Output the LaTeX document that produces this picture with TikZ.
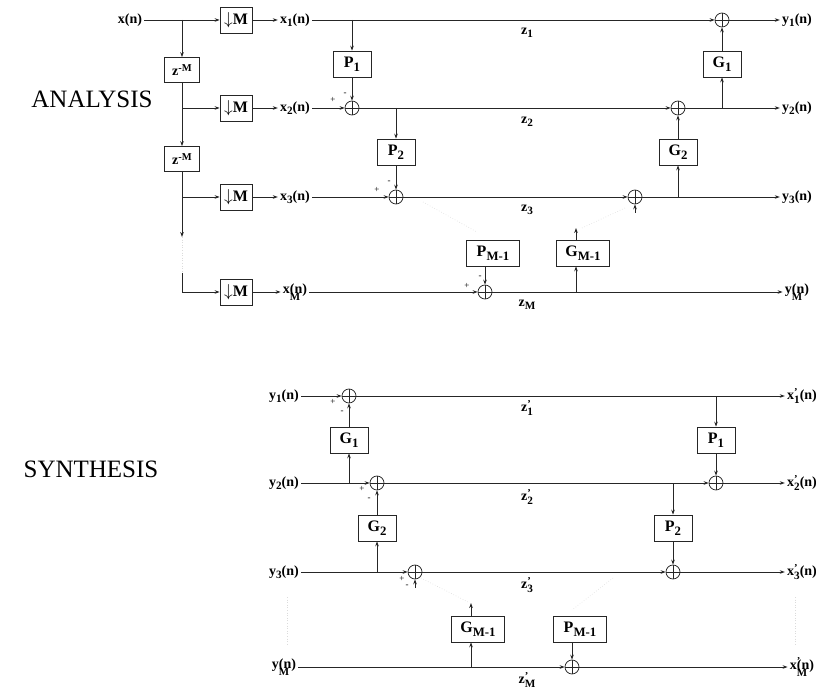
\documentclass[tikz,border=0pt]{standalone}
\usepackage{fontspec}
\usepackage{graphicx}
\setmainfont{Liberation Serif}
\usetikzlibrary{arrows.meta}

% index helpers: lowered subscript, raised superscript, both stacked
\newcommand\lsub[1]{\raisebox{-0.5ex}{\scalebox{0.8}{#1}}}
\newcommand\lsup[1]{\raisebox{0.65ex}{\scalebox{0.75}{#1}}}
\newcommand\lboth[2]{\rlap{\lsup{#1}}\lsub{#2}}
\newcommand\lunder[1]{\rlap{\raisebox{-1.1ex}{\scalebox{0.78}{#1}}}}

\begin{document}
\begin{tikzpicture}[x=1pt,y=-1pt,
  line width=0.75pt, draw=black!85,
  >={Stealth[length=5pt,width=3.6pt]},
  blk/.style={draw, minimum height=26pt, minimum width=38pt, inner sep=0pt,
              font=\bfseries\fontsize{16}{16}\selectfont},
  wblk/.style={blk, minimum width=53pt},
  dec/.style={blk, minimum width=32pt},
  dly/.style={draw, minimum height=25pt, minimum width=35pt, inner sep=0pt,
              font=\bfseries\fontsize{14}{14}\selectfont},
  lbl/.style={inner sep=2pt, font=\bfseries\fontsize{14}{14}\selectfont},
  zlbl/.style={inner sep=0pt, font=\bfseries\fontsize{14}{14}\selectfont},
  sgn/.style={inner sep=0pt, font=\fontsize{9}{9}\selectfont},
  title/.style={inner sep=0pt, font=\fontsize{25}{25}\selectfont},
  sumj/.style={circle, draw, minimum size=14pt, inner sep=0pt,
    path picture={\draw (path picture bounding box.north) -- (path picture bounding box.south)
                        (path picture bounding box.west) -- (path picture bounding box.east);}},
  faint/.style={draw=black!14, dotted, line width=0.6pt}
]
\useasboundingbox (0,0) rectangle (816,692);

% ---------------- analysis bank ----------------
\node[title] (ttlA) at (92,99) {ANALYSIS};

\node[lbl] (xin) at (130,20) {x(n)};
\coordinate (b0) at (182,20);
\coordinate (b1) at (182,108);
\coordinate (b2) at (182,197);
\coordinate (b3) at (182,237);
\coordinate (b4) at (182,273);
\coordinate (b5) at (182,292);

\node[dly] (zd1) at (182,70)  {z\lsup{-M}};
\node[dly] (zd2) at (182,159) {z\lsup{-M}};

\node[dec] (d1) at (236,20)  {\ensuremath{\downarrow}M};
\node[dec] (d2) at (236,108) {\ensuremath{\downarrow}M};
\node[dec] (d3) at (236,197) {\ensuremath{\downarrow}M};
\node[dec] (d4) at (236,292) {\ensuremath{\downarrow}M};

\node[lbl] (x1) at (295,20)  {x\lsub{1}(n)};
\node[lbl] (x2) at (295,108) {x\lsub{2}(n)};
\node[lbl] (x3) at (295,197) {x\lsub{3}(n)};
\node[lbl] (xM) at (295,292) {x\lunder{M}(n)};

\draw[->] (xin) -- (d1);
\draw[->] (b0) -- (zd1);
\draw (zd1) -- (b1);
\draw[->] (b1) -- (d2);
\draw[->] (b1) -- (zd2);
\draw (zd2) -- (b2);
\draw[->] (b2) -- (d3);
\draw[->] (b2) -- (b3);
\draw[faint] (b3) -- (b4);
\draw (b4) -- (b5);
\draw[->] (b5) -- (d4);

\draw[->] (d1) -- (x1);
\draw[->] (d2) -- (x2);
\draw[->] (d3) -- (x3);
\draw[->] (d4) -- (xM);

% lifting stages
\node[sumj] (sA2) at (352,108) {};
\node[sumj] (sA3) at (396,197) {};
\node[sumj] (sAM) at (485,292) {};
\node[sumj] (sB1) at (722,20)  {};
\node[sumj] (sB2) at (678,108) {};
\node[sumj] (sB3) at (635,197) {};

\node[blk] (aP1) at (352,64)  {P\lsub{1}};
\node[blk] (aP2) at (396,152) {P\lsub{2}};
\node[wblk] (aPM) at (493,253) {P\lsub{M-1}};
\node[blk] (aG1) at (722,64)  {G\lsub{1}};
\node[blk] (aG2) at (678,152) {G\lsub{2}};
\node[wblk] (aGM) at (583,253) {G\lsub{M-1}};

\node[lbl] (y1) at (797,20)  {y\lsub{1}(n)};
\node[lbl] (y2) at (797,108) {y\lsub{2}(n)};
\node[lbl] (y3) at (797,197) {y\lsub{3}(n)};
\node[lbl] (yM) at (797,292) {y\lunder{M}(n)};

% channel lines
\draw[->] (x1) -- (sB1);
\draw[->] (sB1) -- (y1);
\draw[->] (x2) -- (sA2);
\draw[->] (sA2) -- (sB2);
\draw[->] (sB2) -- (y2);
\draw[->] (x3) -- (sA3);
\draw[->] (sA3) -- (sB3);
\draw[->] (sB3) -- (y3);
\draw[->] (xM) -- (sAM);
\draw[->] (sAM) -- (yM);

% prediction and update branches
\coordinate (aP1t) at (352,20);
\coordinate (aP2t) at (396,108);
\coordinate (aG1b) at (722,108);
\coordinate (aG2b) at (678,197);
\coordinate (aGMb) at (576,292);
\coordinate (aGMt) at (576,228);
\coordinate (sB3in) at (635,213);
\draw[->] (aP1t) -- (aP1);
\draw[->] (aP1) -- (sA2);
\draw[->] (aP2t) -- (aP2);
\draw[->] (aP2) -- (sA3);
\draw[->] (sAM |- aPM.south) -- (sAM);
\draw[->] (aG1b) -- (aG1);
\draw[->] (aG1) -- (sB1);
\draw[->] (aG2b) -- (aG2);
\draw[->] (aG2) -- (sB2);
\draw[->] (aGMb) -- (aGMb |- aGM.south);
\draw[->] (aGMb |- aGM.north) -- (aGMt);
\draw[->] (sB3in) -- (sB3);

\coordinate (fa1) at (423,202); \coordinate (fa2) at (477,232);
\coordinate (fa3) at (582,228); \coordinate (fa4) at (625,208);
\draw[faint] (fa1) -- (fa2);
\draw[faint] (fa3) -- (fa4);

\node[sgn] (pa2) at (333,100) {+};
\node[sgn] (ma2) at (345,94)  {-};
\node[sgn] (pa3) at (377,190) {+};
\node[sgn] (ma3) at (389,182) {-};
\node[sgn] (paM) at (467,286) {+};
\node[sgn] (maM) at (480,277) {-};

\node[zlbl] (za1) at (527,33)  {z\lsub{1}};
\node[zlbl] (za2) at (527,122) {z\lsub{2}};
\node[zlbl] (za3) at (527,210) {z\lsub{3}};
\node[zlbl] (zaM) at (527,305) {z\lsub{M}};

% ---------------- synthesis bank ----------------
\node[title] (ttlS) at (91,469) {SYNTHESIS};

\node[lbl] (v1) at (284,396) {y\lsub{1}(n)};
\node[lbl] (v2) at (284,483) {y\lsub{2}(n)};
\node[lbl] (v3) at (284,572) {y\lsub{3}(n)};
\node[lbl] (vM) at (284,667) {y\lunder{M}(n)};

\node[sumj] (tA1) at (349,396) {};
\node[sumj] (tA2) at (377,483) {};
\node[sumj] (tA3) at (415,572) {};
\node[sumj] (tB2) at (716,483) {};
\node[sumj] (tB3) at (673,572) {};
\node[sumj] (tBM) at (572,667) {};

\node[blk] (sG1) at (349,440) {G\lsub{1}};
\node[blk] (sG2) at (377,528) {G\lsub{2}};
\node[wblk] (sGM) at (478,629) {G\lsub{M-1}};
\node[blk] (sP1) at (716,440) {P\lsub{1}};
\node[blk] (sP2) at (673,528) {P\lsub{2}};
\node[wblk] (sPM) at (580,629) {P\lsub{M-1}};

\node[lbl] (w1) at (802,396) {x\lboth{'}{1}(n)};
\node[lbl] (w2) at (802,483) {x\lboth{'}{2}(n)};
\node[lbl] (w3) at (802,572) {x\lboth{'}{3}(n)};
\node[lbl] (wM) at (802,667) {x\rlap{\lsup{'}}\lunder{M}(n)};

% channel lines
\draw[->] (v1) -- (tA1);
\draw[->] (tA1) -- (w1);
\draw[->] (v2) -- (tA2);
\draw[->] (tA2) -- (tB2);
\draw[->] (tB2) -- (w2);
\draw[->] (v3) -- (tA3);
\draw[->] (tA3) -- (tB3);
\draw[->] (tB3) -- (w3);
\draw[->] (vM) -- (tBM);
\draw[->] (tBM) -- (wM);

% inverse update and prediction branches
\coordinate (sG1b) at (349,483);
\coordinate (sG2b) at (377,572);
\coordinate (sGMb) at (471,667);
\coordinate (sGMt) at (471,603);
\coordinate (sP1t) at (716,396);
\coordinate (sP2t) at (673,483);
\coordinate (tA3in) at (415,588);
\draw[->] (sG1b) -- (sG1);
\draw[->] (sG1) -- (tA1);
\draw[->] (sG2b) -- (sG2);
\draw[->] (sG2) -- (tA2);
\draw[->] (sGMb) -- (sGMb |- sGM.south);
\draw[->] (sGMb |- sGM.north) -- (sGMt);
\draw[->] (sP1t) -- (sP1);
\draw[->] (sP1) -- (tB2);
\draw[->] (sP2t) -- (sP2);
\draw[->] (sP2) -- (tB3);
\draw[->] (tBM |- sPM.south) -- (tBM);
\draw[->] (tA3in) -- (tA3);

\coordinate (fs1) at (421,578); \coordinate (fs2) at (468,602);
\coordinate (fs3) at (613,578); \coordinate (fs4) at (572,610);
\coordinate (fs5) at (287,597); \coordinate (fs6) at (287,645);
\coordinate (fs7) at (795,597); \coordinate (fs8) at (795,645);
\draw[faint] (fs1) -- (fs2);
\draw[faint] (fs3) -- (fs4);
\draw[faint] (fs5) -- (fs6);
\draw[faint] (fs7) -- (fs8);

\node[sgn] (ps1) at (333,402) {+};
\node[sgn] (ms1) at (342,412) {-};
\node[sgn] (ps2) at (362,489) {+};
\node[sgn] (ms2) at (369,499) {-};
\node[sgn] (ps3) at (402,579) {+};
\node[sgn] (ms3) at (407,586) {-};

\node[zlbl] (zs1) at (527,408) {z\lboth{'}{1}};
\node[zlbl] (zs2) at (527,497) {z\lboth{'}{2}};
\node[zlbl] (zs3) at (527,585) {z\lboth{'}{3}};
\node[zlbl] (zsM) at (527,680) {z\lboth{'}{M}};
\end{tikzpicture}
\end{document}
